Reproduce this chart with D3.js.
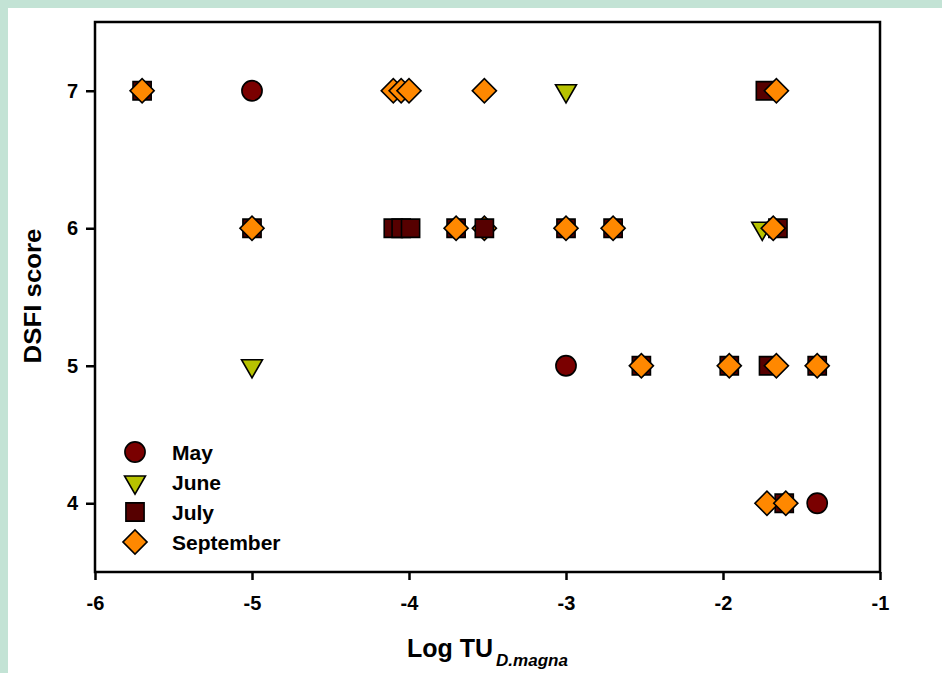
<!DOCTYPE html>
<html lang="en">
<head>
<meta charset="utf-8">
<title>DSFI score vs Log TU</title>
<script src="https://cdn.jsdelivr.net/npm/d3@7/dist/d3.min.js"></script>
<style>
	body { margin: 0; background: #c3e3d5; }
	svg { display: block; }
	.axis path, .axis line { stroke: #000; stroke-width: 2.5; }
	.axis text { font-family: "Liberation Sans", Arial, sans-serif; font-weight: bold; font-size: 20px; fill: #000; }
	.lbl { font-family: "Liberation Sans", Arial, sans-serif; font-weight: bold; fill: #000; }
</style>
</head>
<body>
<svg id="chart" width="942" height="673"></svg>
<script>
// data: [Log TU, DSFI score]
var mayPts = [[-5.0, 7], [-3.0, 5], [-1.40, 4]];
var junePts = [[-3.0, 7], [-1.75, 6], [-5.0, 5]];
var julyPts = [[-5.7, 7], [-1.73, 7], [-5.0, 6], [-4.1, 6], [-4.05, 6], [-3.99, 6], [-3.7, 6],
	[-3.0, 6], [-2.7, 6], [-1.65, 6], [-2.52, 5], [-1.96, 5], [-1.71, 5], [-1.40, 5], [-1.61, 4]];
var sepPts = [[-5.7, 7], [-4.1, 7], [-4.05, 7], [-4.0, 7], [-3.52, 7], [-1.66, 7], [-5.0, 6], [-3.7, 6],
	[-3.0, 6], [-2.7, 6], [-1.68, 6], [-2.52, 5], [-1.96, 5], [-1.66, 5], [-1.40, 5], [-1.72, 4], [-1.60, 4]];
var julyTop = [[-3.52, 6]];   // square drawn over a diamond here
var sepUnder = [[-3.52, 6]];
var months = ['May', 'June', 'July', 'September'];
var xTicks = [-6, -5, -4, -3, -2, -1];
var yTicks = [4, 5, 6, 7];

var svg = d3.select('#chart');
svg.append('rect').attr('x', 8).attr('y', 8).attr('width', 934).attr('height', 665).attr('fill', '#fff');

var margin = {left: 95, top: 22, right: 880, bottom: 572};
var x = d3.scaleLinear().domain([-6, -1]).range([margin.left, margin.right]);
var y = d3.scaleLinear().domain([3.5, 7.5]).range([margin.bottom, margin.top]);

// frame
svg.append('rect')
	.attr('x', margin.left).attr('y', margin.top)
	.attr('width', margin.right - margin.left).attr('height', margin.bottom - margin.top)
	.attr('fill', 'none').attr('stroke', '#000').attr('stroke-width', 2.5);

svg.append('g')
	.attr('class', 'axis')
	.attr('transform', 'translate(0,' + margin.bottom + ')')
	.call(d3.axisBottom(x).tickValues(xTicks).tickSize(8).tickSizeOuter(0).tickPadding(16).tickFormat(function(d) { return String(d); }))
	.call(function(g) { g.select('.domain').remove(); });

svg.append('g')
	.attr('class', 'axis')
	.attr('transform', 'translate(' + margin.left + ',0)')
	.call(d3.axisLeft(y).tickValues(yTicks).tickSize(9).tickSizeOuter(0).tickPadding(8).tickFormat(function(d) { return String(d); }))
	.call(function(g) { g.select('.domain').remove(); });

var shapes = {
	May: {sym: d3.symbolCircle, size: 320, fill: '#7a0000', rot: 0},
	June: {sym: d3.symbolTriangle, size: 190, fill: '#b7c200', rot: 180},
	July: {sym: d3.symbolSquare, size: 330, fill: '#560000', rot: 0},
	September: {sym: d3.symbolSquare, size: 290, fill: '#ff8800', rot: 45}
};

function drawPts(data, m) {
	var s = shapes[m];
	svg.append('g').selectAll('path')
		.data(data)
		.enter().append('path')
		.attr('d', d3.symbol().type(s.sym).size(s.size))
		.attr('transform', function(d) { return 'translate(' + x(d[0]) + ',' + y(d[1]) + ') rotate(' + s.rot + ')'; })
		.attr('fill', s.fill)
		.attr('stroke', '#000')
		.attr('stroke-width', 1.6);
}

drawPts(sepUnder, 'September');
drawPts(mayPts, 'May');
drawPts(junePts, 'June');
drawPts(julyPts, 'July');
drawPts(sepPts, 'September');
drawPts(julyTop, 'July');

// legend
var leg = svg.append('g').selectAll('g')
	.data(months)
	.enter().append('g')
	.attr('transform', function(d, i) { return 'translate(135,' + (452 + i * 30) + ')'; });
leg.append('path')
	.attr('d', function(d) { return d3.symbol().type(shapes[d].sym).size(shapes[d].size)(); })
	.attr('transform', function(d) { return 'rotate(' + shapes[d].rot + ')'; })
	.attr('fill', function(d) { return shapes[d].fill; })
	.attr('stroke', '#000').attr('stroke-width', 1.6);
leg.append('text')
	.attr('class', 'lbl')
	.attr('x', 37).attr('dy', '0.36em')
	.style('font-size', '21px')
	.text(function(d) { return d; });

// axis titles
svg.append('text')
	.attr('class', 'lbl')
	.attr('transform', 'translate(41,296) rotate(-90)')
	.attr('text-anchor', 'middle')
	.attr('textLength', 135)
	.attr('lengthAdjust', 'spacingAndGlyphs')
	.style('font-size', '24px')
	.text('DSFI score');

var xt = svg.append('text')
	.attr('class', 'lbl')
	.attr('x', 407).attr('y', 657)
	.style('font-size', '25px');
xt.append('tspan').text('Log TU');
xt.append('tspan').attr('dx', 3).attr('dy', 9).style('font-size', '17px').style('font-style', 'italic').text('D.magna');
</script>
</body>
</html>
